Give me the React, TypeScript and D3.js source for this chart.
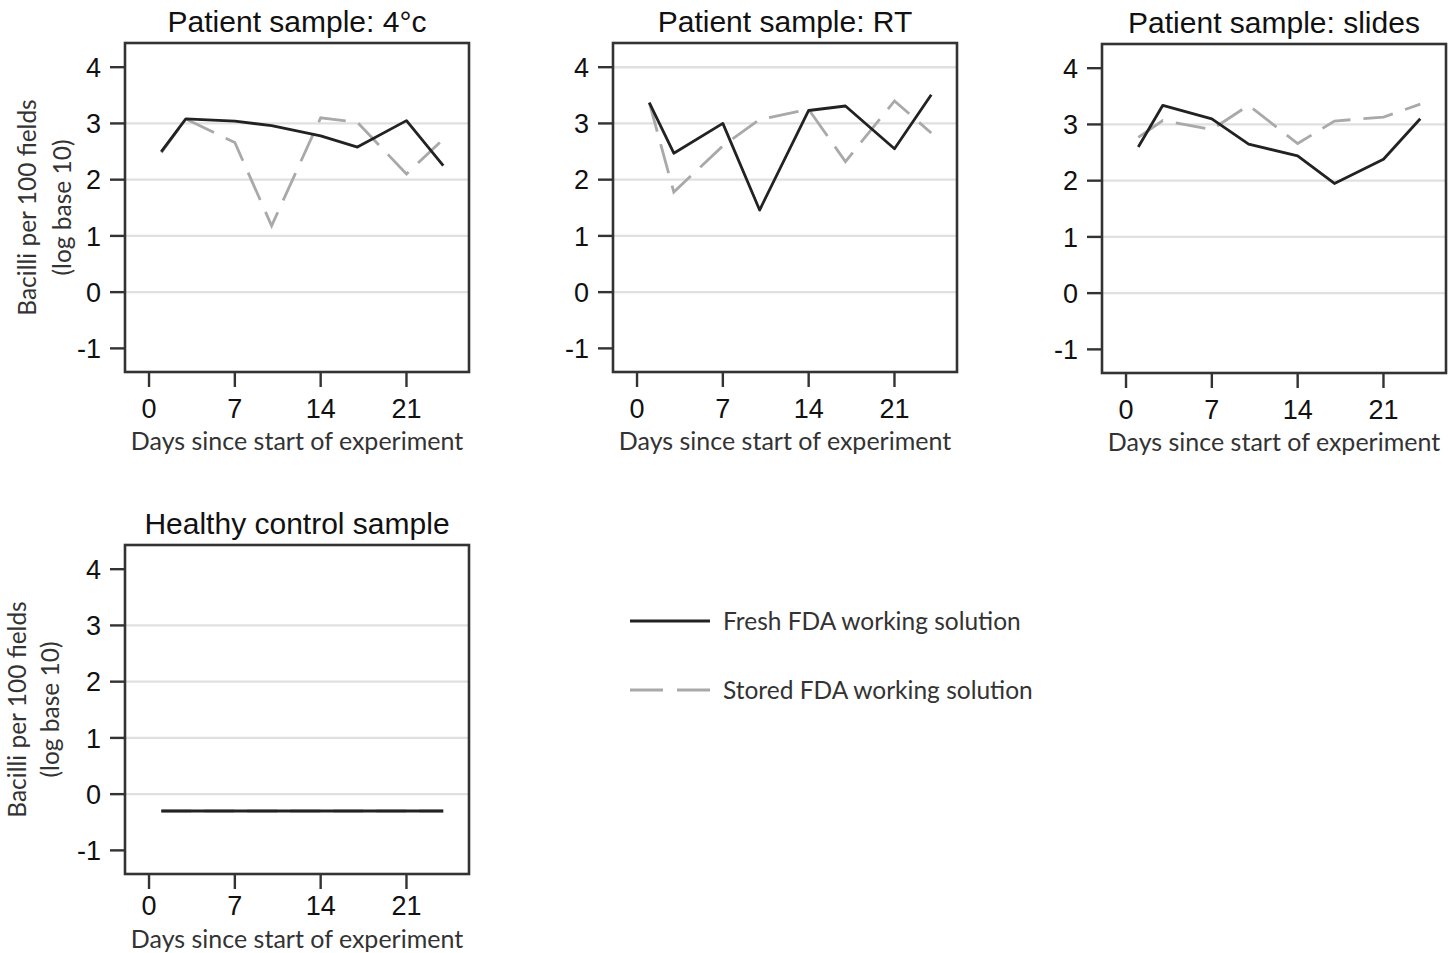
import * as d3 from "d3";

// sampling days and readings (log10 bacilli per 100 fields)
const days = [1, 3, 7, 10, 14, 17, 21, 24];

const fresh4c = [2.5, 3.08, 3.04, 2.96, 2.78, 2.58, 3.05, 2.25];
const stored4c = [2.48, 3.08, 2.66, 1.18, 3.1, 3.02, 2.1, 2.72];

const freshRT = [3.37, 2.47, 3.0, 1.46, 3.23, 3.31, 2.55, 3.51];
const storedRT = [3.37, 1.78, 2.6, 3.07, 3.25, 2.32, 3.4, 2.83];

const freshSlides = [2.6, 3.34, 3.1, 2.65, 2.44, 1.95, 2.38, 3.1];
const storedSlides = [2.77, 3.07, 2.91, 3.34, 2.66, 3.06, 3.13, 3.36];

const freshControl = [-0.3, -0.3, -0.3, -0.3, -0.3, -0.3, -0.3, -0.3];
const storedControl = [-0.3, -0.3, -0.3, -0.3, -0.3, -0.3, -0.3, -0.3];

const xTicks = [0, 7, 14, 21];
const yTicks = [4, 3, 2, 1, 0, -1];

const legendLabels = ["Fresh FDA working solution", "Stored FDA working solution"];

const BLACK = "#222";
const GREY = "#a9a9a9";
const TICK_FONT = "'Liberation Sans', Arial, Helvetica, sans-serif";
const LABEL_FONT = "Lato, 'Open Sans', sans-serif";

const W = 344;
const H = 329;

interface PanelProps {
  title: string;
  left: number;
  top: number;
  fresh: number[];
  stored: number[];
  grid: number[];
  yTitleX?: number;
  yTitleGap?: number;
  xLabelY?: number;
  xTitleY?: number;
}

function Panel({
  title,
  left,
  top,
  fresh,
  stored,
  grid,
  yTitleX,
  yTitleGap = 35,
  xLabelY = 46,
  xTitleY = 78,
}: PanelProps) {
  const x = d3.scaleLinear().domain([-1.96, 26.1]).range([left, left + W]);
  const y = d3.scaleLinear().domain([-1.42, 4.43]).range([top + H, top]);
  const bottom = top + H;

  const line = d3
    .line<number>()
    .x((_, i) => x(days[i]))
    .y((d) => y(d));

  return (
    <g>
      <text
        x={left + W / 2}
        y={top - 11}
        textAnchor="middle"
        fontFamily={TICK_FONT}
        fontSize={30}
        fill="#111"
      >
        {title}
      </text>

      {/* grid */}
      {grid.map((v) => (
        <line
          key={"g" + v}
          x1={left}
          x2={left + W}
          y1={y(v)}
          y2={y(v)}
          stroke="#e0e0e0"
          strokeWidth={2.4}
        />
      ))}

      {/* series */}
      <path d={line(stored) || ""} fill="none" stroke={GREY} strokeWidth={2.8} strokeDasharray="30,13" />
      <path d={line(fresh) || ""} fill="none" stroke={BLACK} strokeWidth={2.8} strokeLinejoin="round" />

      {/* box */}
      <rect x={left} y={top} width={W} height={H} fill="none" stroke="#333" strokeWidth={2.6} />

      {/* y axis */}
      {yTicks.map((v) => (
        <g key={"y" + v}>
          <line x1={left - 15} x2={left} y1={y(v)} y2={y(v)} stroke="#333" strokeWidth={2.4} />
          <text
            x={left - 24}
            y={y(v)}
            dy="0.36em"
            textAnchor="end"
            fontFamily={TICK_FONT}
            fontSize={27}
            fill="#111"
          >
            {v}
          </text>
        </g>
      ))}

      {/* x axis */}
      {xTicks.map((v) => (
        <g key={"x" + v}>
          <line x1={x(v)} x2={x(v)} y1={bottom + 1} y2={bottom + 15} stroke="#333" strokeWidth={2.4} />
          <text
            x={x(v)}
            y={bottom + xLabelY}
            textAnchor="middle"
            fontFamily={TICK_FONT}
            fontSize={27}
            fill="#111"
          >
            {v}
          </text>
        </g>
      ))}
      <text
        x={left + W / 2}
        y={bottom + xTitleY}
        textAnchor="middle"
        fontFamily={LABEL_FONT}
        fontSize={25}
        fill="#333"
      >
        Days since start of experiment
      </text>

      {yTitleX !== undefined && (
        <g transform={`translate(${yTitleX},${top + H / 2}) rotate(-90)`}>
          <text x={0} y={0} textAnchor="middle" fontFamily={LABEL_FONT} fontSize={24.5} fill="#333">
            Bacilli per 100 fields
          </text>
          <text x={0} y={yTitleGap} textAnchor="middle" fontFamily={LABEL_FONT} fontSize={24.5} fill="#333">
            (log base 10)
          </text>
        </g>
      )}
    </g>
  );
}

export default function App() {
  return (
    <svg
      width={1455}
      height={953}
      viewBox="0 0 1455 953"
      style={{ position: "absolute", left: 0, top: 0, background: "#fff" }}
    >
      <rect width={1455} height={953} fill="#fff" />
      <Panel
        title="Patient sample: 4°c"
        left={125}
        top={43}
        fresh={fresh4c}
        stored={stored4c}
        grid={[3, 2, 1, 0]}
        yTitleX={36}
      />
      <Panel
        title="Patient sample: RT"
        left={613}
        top={43}
        fresh={freshRT}
        stored={storedRT}
        grid={[4, 3, 2, 1, 0]}
      />
      <Panel
        title="Patient sample: slides"
        left={1102}
        top={44}
        fresh={freshSlides}
        stored={storedSlides}
        grid={[3, 2, 1, 0]}
      />
      <Panel
        title="Healthy control sample"
        left={125}
        top={545}
        fresh={freshControl}
        stored={storedControl}
        grid={[3, 2, 1, 0]}
        yTitleX={26}
        yTitleGap={33}
        xLabelY={41}
        xTitleY={74}
      />

      {/* legend */}
      <g>
        <line x1={630} x2={710} y1={621} y2={621} stroke={BLACK} strokeWidth={2.8} />
        <text x={723} y={630} fontFamily={LABEL_FONT} fontSize={24.5} fill="#333">
          {legendLabels[0]}
        </text>
        <line
          x1={630}
          x2={710}
          y1={690}
          y2={690}
          stroke={GREY}
          strokeWidth={2.8}
          strokeDasharray="33,14"
        />
        <text x={723} y={699} fontFamily={LABEL_FONT} fontSize={24.5} fill="#333">
          {legendLabels[1]}
        </text>
      </g>
    </svg>
  );
}
